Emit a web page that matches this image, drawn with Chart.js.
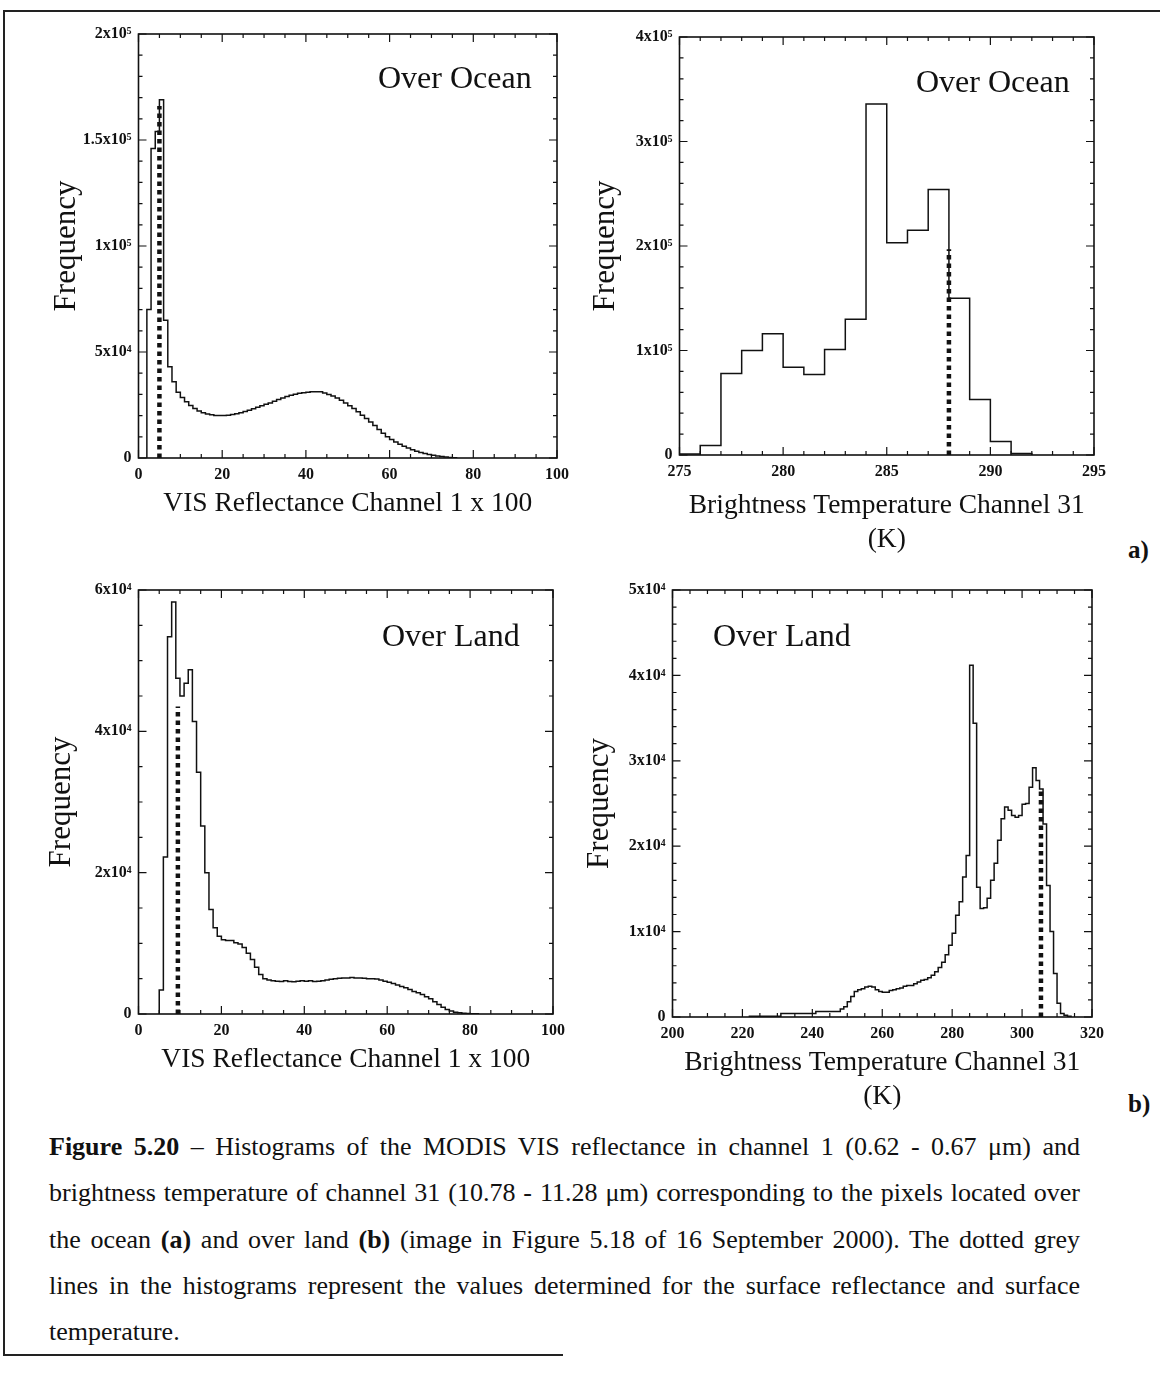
<!DOCTYPE html>
<html>
<head>
<meta charset="utf-8">
<title>Figure 5.20</title>
<script src="https://cdn.jsdelivr.net/npm/chart.js@4.4.1/dist/chart.umd.min.js"></script>
<style>
  html, body { margin: 0; padding: 0; background: #fff; }
  #page { position: relative; width: 1160px; height: 1384px; overflow: hidden;
          font-family: 'Liberation Serif', 'Times New Roman', serif; color: #111; }
  #page canvas { position: absolute; }
  .txt { position: absolute; white-space: nowrap; line-height: 1; }
  .panel-label { font-size: 32px; }
  .tag { font-size: 25px; font-weight: bold; }
  .rule { position: absolute; background: #222; }
  #caption { position: absolute; left: 49px; top: 1124px; width: 1031px;
             font-size: 26px; line-height: 46.3px; }
  #caption .j { text-align: justify; text-align-last: justify; }
</style>
</head>
<body>
<div id="page">
  <div class="rule" style="left:3px; top:10px; width:1157px; height:2px;"></div>
  <div class="rule" style="left:3px; top:10px; width:2px; height:1346px;"></div>
  <div class="rule" style="left:3px; top:1354px; width:560px; height:2px;"></div>

  <canvas id="oceanVis"></canvas>
  <canvas id="oceanBt"></canvas>
  <canvas id="landVis"></canvas>
  <canvas id="landBt"></canvas>

  <div class="txt panel-label" style="left:378px; top:61px;">Over Ocean</div>
  <div class="txt panel-label" style="left:916px; top:65px;">Over Ocean</div>
  <div class="txt panel-label" style="left:382px; top:619px;">Over Land</div>
  <div class="txt panel-label" style="left:713px; top:619px;">Over Land</div>
  <div class="txt tag" style="left:1128px; top:537px;">a)</div>
  <div class="txt tag" style="left:1128px; top:1091px;">b)</div>

  <div id="caption">
    <div class="j"><b>Figure 5.20</b> – Histograms of the MODIS VIS reflectance in channel 1 (0.62 - 0.67 μm) and</div>
    <div class="j">brightness temperature of channel 31 (10.78 - 11.28 μm) corresponding to the pixels located over</div>
    <div class="j">the ocean <b>(a)</b> and over land <b>(b)</b> (image in Figure 5.18 of 16 September 2000). The dotted grey</div>
    <div class="j">lines in the histograms represent the values determined for the surface reflectance and surface</div>
    <div>temperature.</div>
  </div>
</div>

<script>
// ---- data ----

// a) over ocean, VIS reflectance x 100 (bin edges, width 1)
const oceanVisEdges = [2, 3, 4, 5, 6, 7, 8, 9, 10, 11, 12, 13, 14, 15, 16, 17, 18, 19, 20, 21,
  22, 23, 24, 25, 26, 27, 28, 29, 30, 31, 32, 33, 34, 35, 36, 37, 38, 39, 40, 41,
  42, 43, 44, 45, 46, 47, 48, 49, 50, 51, 52, 53, 54, 55, 56, 57, 58, 59, 60, 61,
  62, 63, 64, 65, 66, 67, 68, 69, 70, 71, 72, 73, 74, 75, 76];
const oceanVisCounts = [70000, 146000, 154000, 169000, 65000, 43000, 36000, 31000, 28500, 26500,
  24800, 23300, 22200, 21400, 20800, 20400, 20100, 20000, 20000, 20200,
  20500, 20900, 21400, 21900, 22500, 23200, 23900, 24600, 25300, 26000,
  26800, 27600, 28300, 29000, 29600, 30100, 30500, 30800, 31000, 31200,
  31300, 31200, 30700, 30000, 29200, 28300, 27200, 26000, 24700, 23300,
  21800, 20200, 18600, 17000, 15300, 13500, 11700, 10000, 8700, 7500,
  6500, 5600, 4700, 3900, 3200, 2600, 2100, 1700, 1300, 1000,
  700, 450, 250, 100];
const oceanVisSurface = [5, 166000];      // x, top of dotted line

// a) over ocean, brightness temperature ch 31 (K)
const oceanBtEdges = [275, 276, 277, 278, 279, 280, 281, 282, 283, 284, 285, 286, 287, 288,
  289, 290, 291, 292];
const oceanBtCounts = [1000, 9000, 78000, 100000, 116000, 84000, 77000, 101000, 130000, 336000,
  203000, 215000, 254000, 150000, 53000, 13000, 1500];
const oceanBtSurface = [288, 197000];

// b) over land, VIS reflectance x 100
const landVisEdges = [5, 6, 7, 8, 9, 10, 11, 12, 13, 14, 15, 16, 17, 18, 19, 20, 21, 22, 23, 24,
  25, 26, 27, 28, 29, 30, 31, 32, 33, 34, 35, 36, 37, 38, 39, 40, 41, 42, 43, 44,
  45, 46, 47, 48, 49, 50, 51, 52, 53, 54, 55, 56, 57, 58, 59, 60, 61, 62, 63, 64,
  65, 66, 67, 68, 69, 70, 71, 72, 73, 74, 75, 76, 77, 78, 79, 80, 81, 82];
const landVisCounts = [3400, 22200, 53400, 58300, 47500, 45000, 46800, 48700, 41400, 34200,
  26600, 20000, 14800, 12200, 11000, 10500, 10400, 10400, 10100, 9900,
  9400, 8600, 7700, 6600, 5600, 5000, 4800, 4700, 4650, 4600,
  4700, 4600, 4550, 4650, 4700, 4650, 4700, 4600, 4650, 4700,
  4800, 4900, 5000, 5050, 5100, 5100, 5150, 5100, 5100, 5050,
  5000, 5000, 4950, 4800, 4650, 4500, 4300, 4100, 3900, 3700,
  3450, 3200, 3000, 2750, 2450, 2150, 1750, 1350, 950, 650,
  420, 260, 160, 100, 60, 40, 20];
const landVisSurface = [9.5, 43500];

// b) over land, brightness temperature ch 31 (K)
const landBtEdges = [222, 223, 224, 225, 226, 227, 228, 229, 230, 231, 232, 233, 234, 235, 236,
  237, 238, 239, 240, 241, 242, 243, 244, 245, 246, 247, 248, 249, 250, 251,
  252, 253, 254, 255, 256, 257, 258, 259, 260, 261, 262, 263, 264, 265, 266,
  267, 268, 269, 270, 271, 272, 273, 274, 275, 276, 277, 278, 279, 280, 281,
  282, 283, 284, 285, 286, 287, 288, 289, 290, 291, 292, 293, 294, 295, 296,
  297, 298, 299, 300, 301, 302, 303, 304, 305, 306, 307, 308, 309, 310, 311,
  312, 313, 314];
const landBtCounts = [100, 100, 100, 100, 100, 100, 100, 100, 100, 400,
  400, 400, 400, 400, 400, 400, 400, 400, 400, 650,
  650, 650, 650, 650, 650, 650, 950, 1200, 1800, 2400,
  3000, 3200, 3300, 3500, 3600, 3500, 3200, 3000, 2900, 2900,
  3100, 3200, 3300, 3400, 3600, 3700, 3700, 3900, 4100, 4300,
  4400, 4600, 4900, 5300, 5800, 6400, 7300, 8400, 9800, 11900,
  13500, 16400, 18900, 41200, 34400, 15200, 12700, 12800, 13900, 16000,
  18000, 20700, 23200, 24600, 24200, 23600, 23400, 23600, 24900, 25000,
  26900, 29200, 27700, 26700, 22600, 15400, 10000, 5100, 1600, 400,
  200, 100];
const landBtSurface = [305.4, 26500];

// ---- drawing ----
const FONT = "'Liberation Serif', 'Times New Roman', serif";
const INK = '#111';
const PAD = { top: 20, right: 32, bottom: 4 };
const Y_TITLE_LH = 31;
const X_TITLE_LH = 34;

const SUP = { '0': '⁰', '1': '¹', '2': '²', '3': '³', '4': '⁴', '5': '⁵', '6': '⁶', '7': '⁷', '8': '⁸', '9': '⁹' };
function sciLabel(v) {
  if (v === 0) return '0';
  const e = Math.floor(Math.log10(v) + 1e-9);
  const m = Math.round(v / Math.pow(10, e) * 10) / 10;
  return m + 'x10' + String(e).split('').map(d => SUP[d]).join('');
}

// step outline of a histogram: rise at first edge, drop at last edge
function histogramPoints(edges, counts) {
  const pts = [{ x: edges[0], y: 0 }];
  counts.forEach((c, i) => pts.push({ x: edges[i], y: c }));
  pts.push({ x: edges[counts.length], y: 0 });
  return pts;
}

// closed frame with inward major/minor ticks on all four sides
const frameTicks = {
  id: 'frameTicks',
  afterDatasetsDraw(chart, args, opts) {
    const { ctx, chartArea: a, scales: { x, y } } = chart;
    ctx.save();
    ctx.strokeStyle = INK;
    ctx.lineWidth = 1.2;
    ctx.beginPath();
    const nx = Math.round((x.max - x.min) / opts.xMinor);
    for (let i = 0; i <= nx; i++) {
      const v = x.min + i * opts.xMinor;
      const px = x.getPixelForValue(v);
      const r = v / opts.xMajor;
      const len = Math.abs(r - Math.round(r)) < 1e-6 ? 8 : 4;
      ctx.moveTo(px, a.bottom); ctx.lineTo(px, a.bottom - len);
      ctx.moveTo(px, a.top); ctx.lineTo(px, a.top + len);
    }
    const ny = Math.round((y.max - y.min) / opts.yMinor);
    for (let i = 0; i <= ny; i++) {
      const v = y.min + i * opts.yMinor;
      const py = y.getPixelForValue(v);
      const r = v / opts.yMajor;
      const len = Math.abs(r - Math.round(r)) < 1e-6 ? 8 : 4;
      ctx.moveTo(a.left, py); ctx.lineTo(a.left + len, py);
      ctx.moveTo(a.right, py); ctx.lineTo(a.right - len, py);
    }
    ctx.stroke();
    ctx.lineWidth = 1.6;
    ctx.strokeRect(a.left, a.top, a.right - a.left, a.bottom - a.top);
    ctx.restore();
  }
};

function panel(id, geom, axes, edges, counts, surface) {
  const yAxisW = geom.left - (geom.yTitleX - Y_TITLE_LH / 2);
  const xTitle = axes.xTitle;
  const xAxisH = (geom.xTitleY - geom.bottom) + X_TITLE_LH / 2 + X_TITLE_LH * (xTitle.length - 1);
  const cLeft = geom.left - yAxisW;
  const w = geom.right - cLeft + PAD.right;
  const h = PAD.top + (geom.bottom - geom.top) + xAxisH + PAD.bottom;
  const canvas = document.getElementById(id);
  canvas.width = w;
  canvas.height = h;
  canvas.style.left = cLeft + 'px';
  canvas.style.top = (geom.top - PAD.top) + 'px';
  canvas.style.width = w + 'px';
  canvas.style.height = h + 'px';

  const tickFont = { family: FONT, size: 16, weight: 'bold' };
  return new Chart(canvas, {
    type: 'line',
    data: {
      datasets: [{
        data: [{ x: surface[0], y: 0 }, { x: surface[0], y: surface[1] }],
        borderColor: INK,
        borderWidth: 4.5,
        borderDash: [4.5, 4],
        borderCapStyle: 'butt',
        pointRadius: 0
      }, {
        data: histogramPoints(edges, counts),
        borderColor: INK,
        borderWidth: 1.5,
        stepped: true,
        pointRadius: 0,
        fill: false
      }]
    },
    options: {
      responsive: false,
      animation: false,
      events: [],
      layout: { padding: { left: 0, top: PAD.top, right: PAD.right, bottom: PAD.bottom } },
      scales: {
        x: {
          type: 'linear',
          min: axes.xMin, max: axes.xMax,
          grid: { display: false, drawTicks: false },
          border: { display: false },
          ticks: {
            stepSize: axes.xMajor, autoSkip: false, maxRotation: 0, minRotation: 0,
            padding: 7, color: INK, font: tickFont,
            callback: v => String(v)
          },
          title: {
            display: true, text: xTitle, color: INK, padding: 0,
            font: { family: FONT, size: 27.5, lineHeight: X_TITLE_LH / 27.5 }
          },
          afterFit: s => { s.height = xAxisH; }
        },
        y: {
          min: 0, max: axes.yMax,
          grid: { display: false, drawTicks: false },
          border: { display: false },
          ticks: {
            stepSize: axes.yMajor, autoSkip: false,
            padding: 7, color: INK, font: tickFont,
            callback: v => sciLabel(v)
          },
          title: {
            display: true, text: 'Frequency', color: INK, padding: 0,
            font: { family: FONT, size: 31, lineHeight: Y_TITLE_LH / 31 }
          },
          afterFit: s => { s.width = yAxisW; }
        }
      },
      plugins: {
        legend: { display: false },
        tooltip: { enabled: false },
        frameTicks: { xMajor: axes.xMajor, xMinor: axes.xMinor, yMajor: axes.yMajor, yMinor: axes.yMinor }
      }
    },
    plugins: [frameTicks]
  });
}

panel('oceanVis',
  { left: 138, top: 34, right: 557, bottom: 458, yTitleX: 66, xTitleY: 504 },
  { xMin: 0, xMax: 100, xMajor: 20, xMinor: 5, yMax: 200000, yMajor: 50000, yMinor: 10000,
    xTitle: ['VIS Reflectance Channel 1 x 100'] },
  oceanVisEdges, oceanVisCounts, oceanVisSurface);

panel('oceanBt',
  { left: 679, top: 37, right: 1094, bottom: 455, yTitleX: 605, xTitleY: 506 },
  { xMin: 275, xMax: 295, xMajor: 5, xMinor: 1, yMax: 400000, yMajor: 100000, yMinor: 20000,
    xTitle: ['Brightness Temperature Channel 31', '(K)'] },
  oceanBtEdges, oceanBtCounts, oceanBtSurface);

panel('landVis',
  { left: 138, top: 590, right: 553, bottom: 1014, yTitleX: 61, xTitleY: 1060 },
  { xMin: 0, xMax: 100, xMajor: 20, xMinor: 5, yMax: 60000, yMajor: 20000, yMinor: 5000,
    xTitle: ['VIS Reflectance Channel 1 x 100'] },
  landVisEdges, landVisCounts, landVisSurface);

panel('landBt',
  { left: 672, top: 590, right: 1092, bottom: 1017, yTitleX: 599, xTitleY: 1063 },
  { xMin: 200, xMax: 320, xMajor: 20, xMinor: 5, yMax: 50000, yMajor: 10000, yMinor: 2000,
    xTitle: ['Brightness Temperature Channel 31', '(K)'] },
  landBtEdges, landBtCounts, landBtSurface);
</script>
</body>
</html>
